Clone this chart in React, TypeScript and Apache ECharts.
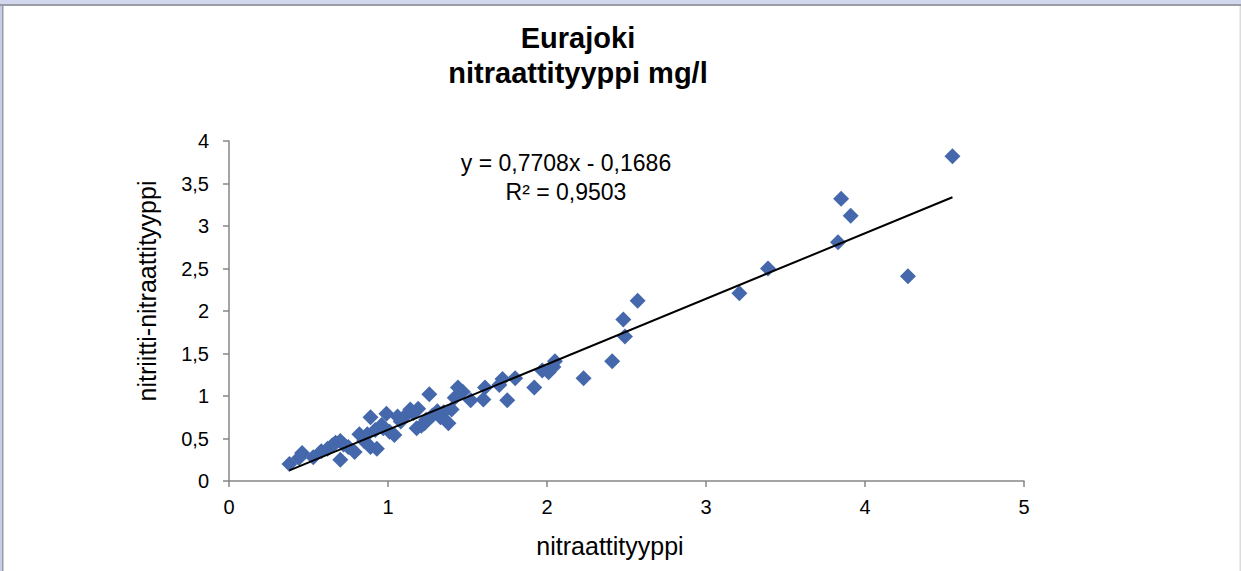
import React, { useEffect, useRef } from "react";
import * as echarts from "echarts";

const titleLines = ["Eurajoki", "nitraattityyppi mg/l"];
const xAxisTitle = "nitraattityyppi";
const yAxisTitle = "nitriitti-nitraattityyppi";
const equationText = "y = 0,7708x - 0,1686";
const r2Text = "R² = 0,9503";
const trendSlope = 0.7708;
const trendIntercept = -0.1686;

const xValues = [
  0.38, 0.44, 0.46, 0.53, 0.62, 0.67, 0.7, 0.7, 0.75, 0.79, 0.82, 0.85, 0.89, 0.89,
  0.93, 0.92, 0.96, 0.99, 1.01, 1.04, 1.06, 1.1, 1.14, 1.18, 1.19, 1.21, 1.24, 1.26,
  1.28, 1.33, 1.35, 1.38, 1.4, 1.42, 1.44, 1.47, 1.52, 1.6, 1.61, 1.7, 1.72, 1.75,
  1.8, 1.92, 1.97, 2.01, 2.04, 2.05, 2.23, 2.41, 2.49, 2.48, 2.57, 3.21, 3.39, 3.83,
  3.85, 3.91, 4.27, 4.55, 0.58, 0.65, 0.72, 0.87, 0.97, 1.08, 1.16, 1.23, 1.31,
];
const yValues = [
  0.2, 0.27, 0.33, 0.28, 0.38, 0.45, 0.47, 0.25, 0.4, 0.34, 0.55, 0.47, 0.75, 0.4,
  0.38, 0.6, 0.66, 0.79, 0.58, 0.54, 0.76, 0.75, 0.84, 0.62, 0.85, 0.65, 0.72, 1.02,
  0.77, 0.75, 0.81, 0.68, 0.84, 0.98, 1.1, 1.05, 0.95, 0.96, 1.1, 1.13, 1.2, 0.95,
  1.21, 1.1, 1.3, 1.28, 1.34, 1.41, 1.21, 1.41, 1.7, 1.9, 2.12, 2.21, 2.5, 2.81,
  3.32, 3.12, 2.41, 3.82, 0.35, 0.42, 0.43, 0.55, 0.62, 0.7, 0.8, 0.68, 0.82,
];

const xTicks = [0, 1, 2, 3, 4, 5];
const yTicks = [0, 0.5, 1, 1.5, 2, 2.5, 3, 3.5, 4];

const fmt = (v: number) => String(v).replace(".", ",");

export default function App() {
  const ref = useRef<HTMLDivElement>(null);
  useEffect(() => {
    if (!ref.current) return;
    const chart = echarts.init(ref.current, null, { renderer: "svg" });
    const points = xValues.map((x, i) => [x, yValues[i]]);
    const xMinData = Math.min(...xValues);
    const xMaxData = Math.max(...xValues);
    const trend = [
      [xMinData, trendSlope * xMinData + trendIntercept],
      [xMaxData, trendSlope * xMaxData + trendIntercept],
    ];
    const font = "'Liberation Sans', Arial, sans-serif";
    chart.setOption({
      animation: false,
      backgroundColor: "#ffffff",
      grid: { left: 229, top: 141, right: 217, bottom: 90, containLabel: false },
      xAxis: {
        type: "value",
        min: xTicks[0],
        max: xTicks[xTicks.length - 1],
        interval: 1,
        splitLine: { show: false },
        axisLine: { show: true, onZero: false, lineStyle: { color: "#868686", width: 1.5 } },
        axisTick: { show: true, length: 6, lineStyle: { color: "#868686", width: 1.5 } },
        axisLabel: { color: "#000", fontSize: 20, fontFamily: font, margin: 16, formatter: (v: number) => fmt(v) },
      },
      yAxis: {
        type: "value",
        min: yTicks[0],
        max: yTicks[yTicks.length - 1],
        interval: 0.5,
        splitLine: { show: false },
        axisLine: { show: true, onZero: false, lineStyle: { color: "#868686", width: 1.5 } },
        axisTick: { show: true, length: 6, lineStyle: { color: "#868686", width: 1.5 } },
        axisLabel: { color: "#000", fontSize: 20, fontFamily: font, margin: 20, formatter: (v: number) => fmt(v) },
      },
      series: [
        {
          type: "line",
          data: trend,
          showSymbol: false,
          symbol: "none",
          lineStyle: { color: "#000", width: 2 },
          z: 3,
        },
        {
          type: "scatter",
          data: points,
          symbol: "diamond",
          symbolSize: 16,
          itemStyle: { color: "#4468AB", opacity: 1 },
          z: 2,
        },
      ],
      graphic: [
        { type: "rect", shape: { x: 0, y: 0, width: 1241, height: 4 }, style: { fill: "#D3D7EE" }, silent: true },
        { type: "rect", shape: { x: 0, y: 4, width: 1241, height: 2 }, style: { fill: "#9A9CA6" }, silent: true },
        { type: "rect", shape: { x: 0, y: 6, width: 2, height: 565 }, style: { fill: "#C8CCE4" }, silent: true },
        { type: "rect", shape: { x: 2, y: 6, width: 1.5, height: 565 }, style: { fill: "#9A9CA6" }, silent: true },
        { type: "rect", shape: { x: 1239.5, y: 6, width: 1.5, height: 565 }, style: { fill: "#DCDCDC" }, silent: true },
        {
          type: "text",
          x: 578,
          y: 38,
          style: { text: titleLines[0], fontSize: 29, fontWeight: "bold", fontFamily: font, fill: "#000", align: "center", verticalAlign: "middle" },
        },
        {
          type: "text",
          x: 578,
          y: 73,
          style: { text: titleLines[1], fontSize: 29, fontWeight: "bold", fontFamily: font, fill: "#000", align: "center", verticalAlign: "middle" },
        },
        {
          type: "text",
          x: 566,
          y: 163,
          style: { text: equationText, fontSize: 23, fontFamily: font, fill: "#000", align: "center", verticalAlign: "middle" },
        },
        {
          type: "text",
          x: 566,
          y: 192,
          style: { text: r2Text, fontSize: 23, fontFamily: font, fill: "#000", align: "center", verticalAlign: "middle" },
        },
        {
          type: "text",
          x: 610,
          y: 546,
          style: { text: xAxisTitle, fontSize: 25, fontFamily: font, fill: "#000", align: "center", verticalAlign: "middle" },
        },
        {
          type: "text",
          x: 147,
          y: 291,
          rotation: Math.PI / 2,
          style: { text: yAxisTitle, fontSize: 25, fontFamily: font, fill: "#000", align: "center", verticalAlign: "middle" },
        },
      ],
    });
    return () => chart.dispose();
  }, []);
  return (
    <div
      ref={ref}
      style={{ position: "fixed", left: 0, top: 0, width: 1241, height: 571 }}
    />
  );
}
